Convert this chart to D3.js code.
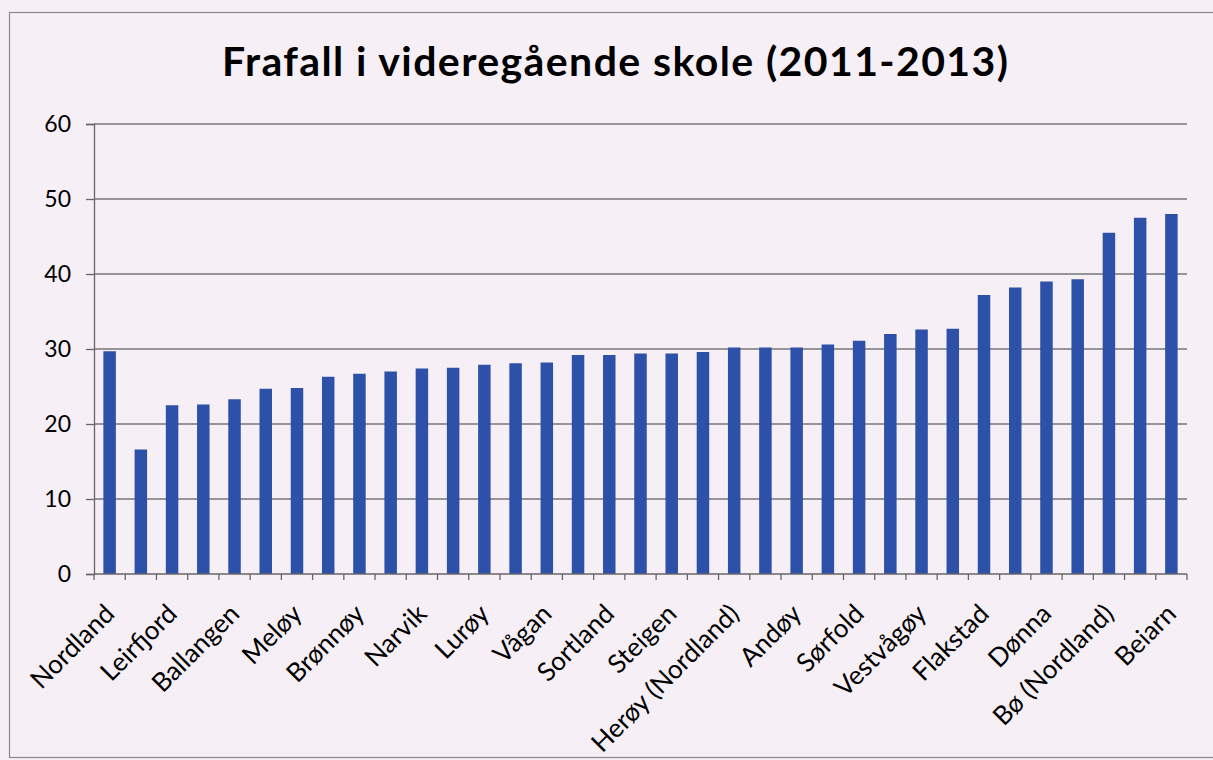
<!DOCTYPE html>
<html>
<head>
<meta charset="utf-8">
<script src="https://cdn.jsdelivr.net/npm/d3@7"></script>
<style>
  body { margin: 0; background: #f6eff6; }
  svg { display: block; }
</style>
</head>
<body>
<svg id="chart" width="1213" height="760"></svg>
<script>
// Frafall i videregående skole, per kommune (prosent)
// Only every second category is labelled in the original chart.
var shownLabels = ["Nordland", "Leirfjord", "Ballangen", "Meløy", "Brønnøy", "Narvik",
    "Lurøy", "Vågan", "Sortland", "Steigen", "Herøy (Nordland)", "Andøy", "Sørfold",
    "Vestvågøy", "Flakstad", "Dønna", "Bø (Nordland)", "Beiarn"];

var values = [29.7, 16.6, 22.5, 22.6, 23.3, 24.7, 24.8, 26.3, 26.7, 27.0, 27.4, 27.5,
    27.9, 28.1, 28.2, 29.2, 29.2, 29.4, 29.4, 29.6, 30.2, 30.2, 30.2, 30.6,
    31.1, 32.0, 32.6, 32.7, 37.2, 38.2, 39.0, 39.3, 45.5, 47.5, 48.0];

var yTicks = [0, 10, 20, 30, 40, 50, 60];

var title = "Frafall i videregående skole (2011-2013)";

var svg = d3.select("#chart");

var margin = {top: 124, right: 26, bottom: 186, left: 94},
    width = 1213 - margin.left - margin.right,
    height = 760 - margin.top - margin.bottom;

var font = "Lato, 'Open Sans', sans-serif";

// chart frame
svg.append("rect")
    .attr("x", 9.5).attr("y", 12.5)
    .attr("width", 1230).attr("height", 745)
    .attr("fill", "#f6eff6")
    .attr("stroke", "#8a8a8a").attr("stroke-width", 1.2);

svg.append("text")
    .attr("x", 615).attr("y", 76)
    .attr("text-anchor", "middle")
    .attr("font-family", font)
    .attr("font-weight", "bold")
    .attr("font-size", 41)
    .attr("textLength", 786)
    .attr("lengthAdjust", "spacing")
    .attr("fill", "#000")
    .text(title);

var g = svg.append("g").attr("transform", "translate(" + margin.left + "," + margin.top + ")");

var x = d3.scaleBand()
    .domain(d3.range(values.length))
    .range([0, width])
    .paddingInner(0.6)
    .paddingOuter(0.3);

var y = d3.scaleLinear()
    .domain([0, 60])
    .range([height, 0]);

// gridlines
g.append("g")
    .selectAll("line")
    .data(yTicks.slice(1))
    .join("line")
    .attr("x1", 0).attr("x2", width)
    .attr("y1", function(d) { return y(d); })
    .attr("y2", function(d) { return y(d); })
    .attr("stroke", "#767676").attr("stroke-width", 1.3);

// bars
g.append("g")
    .selectAll("rect")
    .data(values)
    .join("rect")
    .attr("x", function(d, i) { return x(i); })
    .attr("y", function(d) { return y(d); })
    .attr("width", x.bandwidth())
    .attr("height", function(d) { return height - y(d); })
    .attr("fill", "#2d51a8");

// y axis
var yAxis = g.append("g")
    .call(d3.axisLeft(y).tickValues(yTicks).tickSize(8).tickPadding(15));
yAxis.attr("font-size", null).attr("font-family", null);
yAxis.select(".domain").attr("stroke", "#666").attr("stroke-width", 1.3);
yAxis.selectAll(".tick line").attr("stroke", "#666").attr("stroke-width", 1.3);
yAxis.selectAll(".tick text")
    .style("font-family", font)
    .style("font-size", "23px")
    .attr("fill", "#000");

// x axis: ticks on category boundaries
var step = x.step();
var xBase = g.append("g").attr("transform", "translate(0," + height + ")");
xBase.append("line")
    .attr("x1", 0).attr("x2", width)
    .attr("stroke", "#666").attr("stroke-width", 1.3);
xBase.selectAll("line.tick")
    .data(d3.range(values.length + 1))
    .join("line")
    .attr("class", "tick")
    .attr("x1", function(i) { return i * step; })
    .attr("x2", function(i) { return i * step; })
    .attr("y1", 0).attr("y2", 6)
    .attr("stroke", "#666").attr("stroke-width", 1.3);

xBase.selectAll("text")
    .data(shownLabels)
    .join("text")
    .attr("transform", function(d, i) {
        var cx = x(i * 2) + x.bandwidth() / 2;
        return "translate(" + cx + ",35) rotate(-45)";
    })
    .attr("text-anchor", "end")
    .attr("dy", "0.35em")
    .style("font-family", font)
    .style("font-size", "26px")
    .attr("fill", "#000")
    .text(function(d) { return d; });
</script>
</body>
</html>
